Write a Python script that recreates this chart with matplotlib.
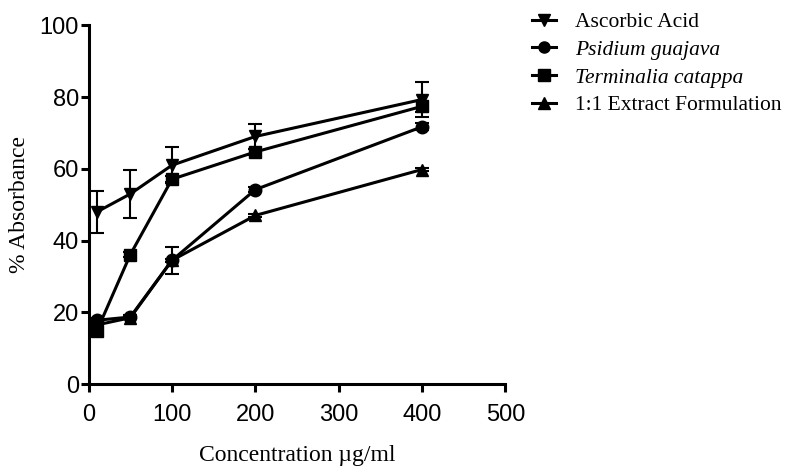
import matplotlib.pyplot as plt
from matplotlib.lines import Line2D

conc = [10, 50, 100, 200, 400]

ascorbic = [48.0, 53.0, 61.0, 69.0, 79.3]
ascorbic_err = [5.8, 6.6, 5.0, 3.5, 4.8]

psidium = [17.8, 18.7, 34.5, 54.2, 71.7]
psidium_err = [0.5, 0.5, 3.8, 0.8, 1.0]

terminalia = [14.9, 36.1, 57.1, 64.7, 77.4]
terminalia_err = [0.5, 0.8, 0.8, 0.8, 1.5]

formulation = [16.5, 18.5, 34.5, 47.0, 59.8]
formulation_err = [0.3, 0.3, 0.5, 0.5, 0.5]

labels = ["Ascorbic Acid", "Psidium guajava", "Terminalia catappa", "1:1 Extract Formulation"]
series = [ascorbic, psidium, terminalia, formulation]
errors = [ascorbic_err, psidium_err, terminalia_err, formulation_err]
markers = ["v", "o", "s", "^"]

fig = plt.figure(figsize=(8.06, 4.76), dpi=100)
ax = fig.add_axes([0.110, 0.193, 0.517, 0.754])

handles = []
for y, e, m, lab in zip(series, errors, markers, labels):
    ax.errorbar(conc, y, yerr=e, marker=m, color="black", lw=2.2, ms=9,
                capsize=5, elinewidth=1.5, capthick=1.5)
    handles.append(Line2D([], [], color="black", lw=2.2, marker=m, ms=8))

ax.set_xlim(0, 500)
ax.set_ylim(0, 100)
ax.set_xticks([0, 100, 200, 300, 400, 500])
ax.set_yticks([0, 20, 40, 60, 80, 100])
for s in ["top", "right"]:
    ax.spines[s].set_visible(False)
for s in ["left", "bottom"]:
    ax.spines[s].set_linewidth(2.2)
ax.tick_params(direction="out", length=6, width=2.2, labelsize=17)
ax.tick_params(axis="y", pad=1)
ax.tick_params(axis="x", pad=8)
for t in ax.get_xticklabels() + ax.get_yticklabels():
    t.set_family("Liberation Sans")

ax.set_xlabel("Concentration \u00b5g/ml", family="Liberation Serif", fontsize=17, labelpad=14)
ax.set_ylabel("% Absorbance", family="Liberation Serif", fontsize=17, labelpad=7)

leg = fig.legend(handles=handles, labels=labels, loc="upper left", bbox_to_anchor=(0.636, 1.015),
                 frameon=False, prop={"family": "Liberation Serif", "size": 15.5},
                 handlelength=1.1, handletextpad=0.9, labelspacing=0.35)
leg.get_texts()[1].set_style("italic")
leg.get_texts()[2].set_style("italic")

fig.savefig("out.png", dpi=100)
